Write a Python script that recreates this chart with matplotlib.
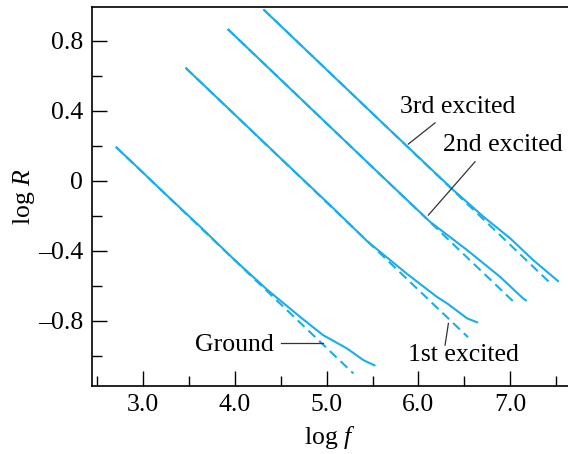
import matplotlib.pyplot as plt
from matplotlib.ticker import FixedLocator, FixedFormatter, MultipleLocator

plt.rcParams['font.family'] = ['Liberation Serif', 'DejaVu Serif']
plt.rcParams['mathtext.fontset'] = 'custom'
plt.rcParams['mathtext.rm'] = 'Liberation Serif'
plt.rcParams['mathtext.it'] = 'Liberation Serif:italic'

# solid curves (measured log R vs log f)
ground_x = [2.70, 3.00, 3.30, 3.62, 3.98, 4.35, 4.71, 4.96, 5.22, 5.40, 5.53]
ground_y = [0.194, 0.045, -0.105, -0.262, -0.445, -0.622, -0.778, -0.882, -0.958, -1.025, -1.057]

first_x = [3.46, 4.00, 4.50, 5.04, 5.44, 5.87, 6.20, 6.31, 6.53, 6.65]
first_y = [0.646, 0.377, 0.127, -0.141, -0.345, -0.530, -0.663, -0.700, -0.786, -0.811]

second_x = [3.92, 4.50, 5.00, 5.64, 6.13, 6.53, 6.89, 7.14, 7.18]
second_y = [0.867, 0.577, 0.327, 0.007, -0.236, -0.396, -0.549, -0.672, -0.686]

third_x = [4.31, 5.00, 5.60, 6.15, 6.38, 6.71, 7.00, 7.25, 7.53]
third_y = [0.979, 0.634, 0.334, 0.061, -0.053, -0.206, -0.329, -0.453, -0.577]

# dashed asymptotes (start, end)
ground_dash_x = [2.70, 5.29]
ground_dash_y = [0.194, -1.101]
first_dash_x = [3.46, 6.54]
first_dash_y = [0.646, -0.894]
second_dash_x = [3.92, 7.07]
second_dash_y = [0.867, -0.708]
third_dash_x = [4.31, 7.42]
third_dash_y = [0.979, -0.576]

x_ticks = [3.0, 4.0, 5.0, 6.0, 7.0]
x_labels = ['3.0', '4.0', '5.0', '6.0', '7.0']
y_ticks = [-0.8, -0.4, 0.0, 0.4, 0.8]
y_labels = ['\u20130.8', '\u20130.4', '0', '0.4', '0.8']

blue = '#1aaee8'

fig = plt.figure(figsize=(5.68, 4.54), dpi=100)
ax = fig.add_axes([0.1614, 0.1504, 0.8386, 0.8342])

for xs, ys in [(ground_x, ground_y), (first_x, first_y),
               (second_x, second_y), (third_x, third_y)]:
    ax.plot(xs, ys, color=blue, lw=1.5, solid_capstyle='butt')

for xs, ys in [(ground_dash_x, ground_dash_y), (first_dash_x, first_dash_y),
               (second_dash_x, second_dash_y), (third_dash_x, third_dash_y)]:
    ax.plot(xs, ys, color=blue, lw=1.5, dashes=(4.5, 2.6))

# labels with leader lines
lc = '#333333'
ax.text(4.425, -0.939, 'Ground', fontsize=18.5, ha='right', va='center')
ax.plot([4.50, 4.96], [-0.929, -0.929], color=lc, lw=0.9)

ax.text(6.486, -0.996, '1st excited', fontsize=18.5, ha='center', va='center')
ax.plot([6.29, 6.326], [-0.939, -0.815], color=lc, lw=0.9)

ax.text(6.268, 0.204, '2nd excited', fontsize=18.5, ha='left', va='center')
ax.plot([6.617, 6.108], [0.109, -0.196], color=lc, lw=0.9)

ax.text(5.80, 0.423, '3rd excited', fontsize=18.5, ha='left', va='center')
ax.plot([6.181, 5.89], [0.331, 0.21], color=lc, lw=0.9)

ax.set_xlim(2.437, 7.63)
ax.set_ylim(-1.171, 0.993)

ax.xaxis.set_major_locator(FixedLocator(x_ticks))
ax.xaxis.set_major_formatter(FixedFormatter(x_labels))
ax.xaxis.set_minor_locator(MultipleLocator(0.5))
ax.yaxis.set_major_locator(FixedLocator(y_ticks))
ax.yaxis.set_major_formatter(FixedFormatter(y_labels))
ax.yaxis.set_minor_locator(MultipleLocator(0.2))

ax.tick_params(which='both', direction='in', top=False, right=False,
               labelsize=18.5, pad=6, width=1)
ax.tick_params(which='major', length=11)
ax.tick_params(which='minor', length=7.5)

ax.spines['right'].set_visible(False)
for s in ['top', 'left', 'bottom']:
    ax.spines[s].set_linewidth(1.2)

ax.set_xlabel(r'log $f$', fontsize=18.5, labelpad=6)
ax.set_ylabel(r'log $R$', fontsize=18.5, labelpad=0.5)

fig.savefig('out.png', dpi=100)
